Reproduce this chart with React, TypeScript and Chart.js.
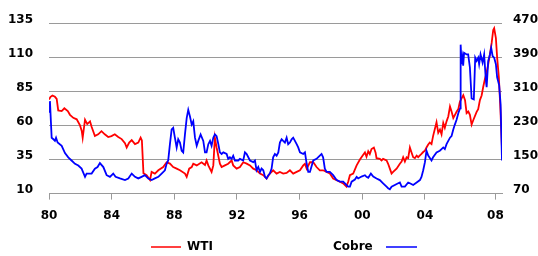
import React, { useEffect, useRef } from 'react';
import { Chart, registerables } from 'chart.js';

Chart.register(...registerables);

// ---- Data ----
const seriesNames = ['WTI', 'Cobre'];

const wtiYears = [
  1980.00, 1980.10, 1980.22, 1980.38, 1980.49, 1980.59, 1980.81, 1980.98,
  1981.20, 1981.34, 1981.55, 1981.77, 1981.98,
  1982.09, 1982.15, 1982.30, 1982.44, 1982.62, 1982.72, 1982.93,
  1983.14, 1983.35, 1983.56, 1983.78, 1983.99,
  1984.20, 1984.42, 1984.64, 1984.85, 1984.96,
  1985.12, 1985.28, 1985.49, 1985.70, 1985.85, 1985.93,
  1986.03, 1986.23, 1986.45, 1986.55, 1986.76, 1986.98,
  1987.29, 1987.51, 1987.72, 1987.93,
  1988.15, 1988.36, 1988.68, 1988.79, 1988.95,
  1989.11, 1989.21, 1989.43, 1989.74, 1989.96,
  1990.06, 1990.17, 1990.38, 1990.49, 1990.59, 1990.70, 1990.91,
  1991.02, 1991.23, 1991.44, 1991.66, 1991.76, 1991.98,
  1992.19, 1992.40, 1992.62, 1992.83,
  1993.04, 1993.25, 1993.47, 1993.68, 1993.89,
  1994.10, 1994.31, 1994.53, 1994.74, 1994.95,
  1995.17, 1995.38, 1995.59, 1995.81,
  1996.02, 1996.23, 1996.34, 1996.45, 1996.66, 1996.87,
  1997.08, 1997.29, 1997.50, 1997.72, 1997.93,
  1998.14, 1998.36, 1998.57, 1998.78, 1998.99,
  1999.10, 1999.21, 1999.42, 1999.64, 1999.85,
  2000.06, 2000.17, 2000.27, 2000.38, 2000.48, 2000.59, 2000.74, 2000.85, 2000.91,
  2001.12, 2001.23, 2001.33, 2001.55, 2001.65, 2001.76, 2001.87, 2001.97,
  2002.19, 2002.40, 2002.51, 2002.61, 2002.72, 2002.83, 2002.93,
  2003.04, 2003.15, 2003.25, 2003.36, 2003.47, 2003.57, 2003.68, 2003.78, 2003.89,
  2004.00, 2004.10, 2004.21, 2004.31, 2004.42, 2004.52, 2004.74, 2004.85, 2004.96,
  2005.06, 2005.17, 2005.27, 2005.38, 2005.49, 2005.60, 2005.70, 2005.81,
  2006.02, 2006.13, 2006.23, 2006.34, 2006.45, 2006.56, 2006.66, 2006.77, 2006.87, 2006.98,
  2007.09, 2007.30, 2007.40, 2007.51, 2007.62, 2007.72, 2007.83, 2007.94,
  2008.04, 2008.15, 2008.26, 2008.36, 2008.42, 2008.53, 2008.61, 2008.72, 2008.82, 2008.92,
];

const wtiValues = [
  79, 81, 82, 81, 79.5, 71, 70.5, 72.6,
  70.5, 67.8, 65.6, 64.5, 60,
  56, 51, 64.2, 61, 63, 59, 52.2,
  53.5, 55.8, 53.5, 51.5, 52.2,
  53.5, 51.5, 50, 47, 43.8,
  47.4, 49.2, 46.3, 47.4, 51, 49,
  25, 23.5, 19.9, 25.9, 24.7, 27.1,
  29.5, 33, 32, 29.5,
  28.3, 27.1, 24.7, 22.3, 28.3,
  29.5, 31.9, 30.7, 33, 31,
  34.3, 30.7, 25.9, 30.7, 51, 43.8, 31.9,
  29.5, 30.7, 31.9, 34.3, 30.7, 28.3,
  29.5, 33, 32, 30.7,
  28.3, 27.1, 24.7, 23.5, 21.1,
  24.7, 27.1, 24.7, 25.9, 24.7,
  25.2, 27.1, 24.7, 25.9,
  27.1, 30.7, 31.9, 28.3, 33, 33,
  29.5, 27.1, 27.1, 25.9, 24.7,
  21.1, 19.9, 18.7, 17.5, 15.1,
  18.7, 23.5, 24.7, 30.7, 35,
  38.5, 40.2, 37, 41, 39, 42.7, 43.8, 40, 36,
  35.5, 34.3, 35.5, 34.3, 31.9, 28.3, 24.7, 25.9,
  28.3, 31.9, 33.5, 36.7, 33.5, 36.7, 36,
  43.8, 40, 36.7, 36, 37.9, 36.7, 38, 39.1, 40.5,
  41.5, 43.8, 46, 47.4, 46.3, 52.2, 62.3, 54.6, 57,
  53.5, 61.8, 58.3, 63, 66.6, 73.8, 70.2, 65.4,
  70, 72, 77.4, 79.8, 82.2, 78.6, 69, 70.2, 67.8, 60.6,
  64, 70, 72, 78.6, 82, 88.2, 94.1, 99,
  104.9, 112.1, 120.5, 130, 131.3, 124, 109.7, 95.3, 71.4, 42.7,
];

const cobreYears = [
  1980.00, 1980.06, 1980.17, 1980.30, 1980.38, 1980.45, 1980.55, 1980.81,
  1981.02, 1981.23, 1981.44, 1981.66, 1981.87,
  1982.08, 1982.30, 1982.40, 1982.72, 1982.93,
  1983.10, 1983.25, 1983.47, 1983.68, 1983.89,
  1984.10, 1984.25, 1984.53, 1984.85,
  1985.06, 1985.28, 1985.49, 1985.70, 1985.91,
  1986.12, 1986.34, 1986.55, 1986.76, 1986.98,
  1987.19, 1987.40, 1987.51, 1987.61, 1987.72, 1987.83, 1987.93,
  1988.04, 1988.15, 1988.25, 1988.36, 1988.47, 1988.57, 1988.68, 1988.79, 1988.89,
  1989.00, 1989.11, 1989.21, 1989.32, 1989.43, 1989.53, 1989.68, 1989.85, 1989.96,
  1990.06, 1990.17, 1990.28, 1990.38, 1990.49, 1990.59, 1990.70, 1990.81, 1990.91,
  1991.02, 1991.13, 1991.34, 1991.44, 1991.55, 1991.66, 1991.76, 1991.87,
  1992.08, 1992.19, 1992.40, 1992.51, 1992.62, 1992.83,
  1993.04, 1993.15, 1993.25, 1993.36, 1993.47, 1993.57, 1993.68, 1993.79, 1993.89,
  1994.00, 1994.10, 1994.21, 1994.31, 1994.42, 1994.53, 1994.64, 1994.74, 1994.85, 1994.95,
  1995.06, 1995.17, 1995.27, 1995.38, 1995.49, 1995.59, 1995.70, 1995.81, 1995.91,
  1996.02, 1996.23, 1996.34, 1996.45, 1996.55, 1996.66, 1996.87,
  1997.08, 1997.29, 1997.40, 1997.50, 1997.61, 1997.72, 1997.93,
  1998.14, 1998.36, 1998.57, 1998.78, 1998.99,
  1999.10, 1999.21, 1999.32, 1999.53, 1999.64, 1999.74, 1999.95,
  2000.17, 2000.27, 2000.38, 2000.55, 2000.70, 2000.91,
  2001.12, 2001.33, 2001.55, 2001.65, 2001.76, 2001.87,
  2002.08, 2002.29, 2002.40, 2002.51, 2002.72, 2002.93,
  2003.04, 2003.25, 2003.47, 2003.68, 2003.78, 2003.89,
  2004.00, 2004.10, 2004.21, 2004.42, 2004.52, 2004.74, 2004.95,
  2005.06, 2005.17, 2005.27, 2005.38, 2005.60, 2005.70, 2005.81, 2005.91,
  2006.02, 2006.13, 2006.24, 2006.28, 2006.34, 2006.40, 2006.44, 2006.50, 2006.66, 2006.76, 2006.87, 2006.98,
  2007.12, 2007.21, 2007.30, 2007.40, 2007.46, 2007.55, 2007.68, 2007.78, 2007.89, 2007.94,
  2008.04, 2008.15, 2008.23, 2008.32, 2008.42, 2008.53, 2008.61, 2008.74, 2008.83, 2008.92,
];

const cobreValues = [
  262, 287, 201, 197, 194, 201, 190, 182,
  165, 155, 147.7, 140, 136,
  128.6, 109.3, 117, 117, 128.6,
  132.3, 141.5, 132.3, 113.2, 109.3,
  117, 109.3, 105.6, 101.7,
  105.6, 117, 109.3, 105.6, 109.3,
  113.2, 105.6, 101.7, 105.6, 109.3,
  117, 124.7, 140, 147.7, 186, 220.6, 224.3,
  201, 178.3, 197.6, 190, 170.7, 166.8, 209, 247.3, 266.6,
  251, 232, 239.7, 201.3, 182.2, 193.7, 209, 193.7, 166.8,
  166.8, 186, 193.7, 182.2, 201.3, 209, 205, 186, 166.8,
  163, 166.8, 163, 151.6, 155.3, 151.6, 159, 147.7,
  147.7, 151.6, 147.7, 166.8, 163, 147.7,
  143.8, 147.7, 124.7, 132.3, 120.8, 128.6, 124.7, 109.3, 105.6,
  113.2, 117, 128.6, 155.3, 163, 159, 166.8, 189.8, 197.6, 193.7,
  189.8, 201.3, 186, 189.8, 197.6, 201.3, 193.7, 186, 178.3,
  166.8, 163, 166.8, 140, 120.8, 120.8, 147.7,
  151.6, 159, 163, 155.3, 128.6, 120.8, 120.8,
  113.2, 101.7, 98, 98, 90.2,
  86.3, 86.3, 98, 103, 109.3, 105.6, 110,
  113.2, 109.3, 107, 117, 110, 105.6,
  101.7, 94.2, 86.3, 82.6, 80.3, 86.3,
  90.2, 94.2, 96, 86.3, 86.3, 96,
  94.2, 90.2, 96, 101.7, 109.3, 124.7,
  143.8, 170.7, 159.2, 147.7, 155.3, 166.8, 170.7,
  174.5, 178.3, 174.5, 186, 201.3, 205, 220.6, 232,
  243.5, 258.7, 270, 419.7, 373.7, 389, 370, 400.6, 396.7, 396.7, 366, 293.2,
  291, 389, 381.5, 389, 374, 396.7, 377.6, 396.7, 335.5, 320,
  381.5, 396.7, 412, 393, 389, 373.7, 343, 324, 280, 147.7,
];

const xTickYears = [1980, 1984, 1988, 1992, 1996, 2000, 2004, 2008.5];
const xTickLabels = ['80', '84', '88', '92', '96', '00', '04', '08'];

const leftAxis = { min: 10, max: 135, step: 25 };
const rightAxis = { min: 70, max: 470, step: 80 };

// ---- Styles ----
const RED = '#ff0000';
const BLUE = '#0000ff';
const GRID = '#9a9a9a';
const FONT_FAMILY = '"DejaVu Sans", Verdana, sans-serif';
const tickFont = { family: FONT_FAMILY, size: 12, weight: 'bold' as const };

const legendPlugin = {
  id: 'customLegend',
  afterDraw(chart: any) {
    const ctx = chart.ctx as CanvasRenderingContext2D;
    const y = 247;
    ctx.save();
    ctx.font = `bold 12px ${FONT_FAMILY}`;
    ctx.textBaseline = 'middle';
    ctx.textAlign = 'left';
    ctx.fillStyle = '#000';
    ctx.lineWidth = 1.5;
    // WTI: line then text
    ctx.strokeStyle = RED;
    ctx.beginPath();
    ctx.moveTo(151, y);
    ctx.lineTo(181, y);
    ctx.stroke();
    ctx.fillText(seriesNames[0], 187, y);
    // Cobre: text then line
    ctx.fillText(seriesNames[1], 333, y);
    ctx.strokeStyle = BLUE;
    ctx.beginPath();
    ctx.moveTo(386, y);
    ctx.lineTo(417, y);
    ctx.stroke();
    ctx.restore();
  },
};

export default function App() {
  const canvasRef = useRef<HTMLCanvasElement | null>(null);

  useEffect(() => {
    if (!canvasRef.current) return;
    Chart.defaults.font.family = FONT_FAMILY;

    const chart = new Chart(canvasRef.current, {
      type: 'line',
      data: {
        datasets: [
          {
            label: seriesNames[0],
            data: wtiYears.map((x, i) => ({ x, y: wtiValues[i] })),
            borderColor: RED,
            backgroundColor: RED,
            borderWidth: 1.8,
            pointRadius: 0,
            tension: 0,
            yAxisID: 'y',
            order: 1,
          },
          {
            label: seriesNames[1],
            data: cobreYears.map((x, i) => ({ x, y: cobreValues[i] })),
            borderColor: BLUE,
            backgroundColor: BLUE,
            borderWidth: 1.8,
            pointRadius: 0,
            tension: 0,
            yAxisID: 'y1',
            order: 0,
          },
        ],
      },
      options: {
        animation: false,
        responsive: false,
        devicePixelRatio: 1,
        layout: { padding: { top: 19.5, left: 0, right: 0, bottom: 0 } },
        plugins: {
          legend: { display: false },
          tooltip: { enabled: false },
        },
        scales: {
          x: {
            type: 'linear',
            min: wtiYears[0],
            max: wtiYears[wtiYears.length - 1],
            afterBuildTicks: (scale: any) => {
              scale.ticks = xTickYears.map((v) => ({ value: v }));
            },
            afterFit: (scale: any) => {
              scale.height = 62.4;
            },
            ticks: {
              callback: (_v: any, i: number) => xTickLabels[i],
              autoSkip: false,
              maxRotation: 0,
              padding: 9,
              color: '#000',
              font: tickFont,
            },
            grid: {
              drawOnChartArea: false,
              drawTicks: true,
              tickLength: 6,
              color: GRID,
              lineWidth: 1,
            },
            border: { display: true, color: GRID, width: 1 },
          },
          y: {
            type: 'linear',
            position: 'left',
            min: leftAxis.min,
            max: leftAxis.max,
            afterFit: (scale: any) => {
              scale.width = 49;
            },
            ticks: {
              stepSize: leftAxis.step,
              padding: 16,
              labelOffset: -3.5,
              color: '#000',
              font: tickFont,
            },
            grid: { color: GRID, lineWidth: 1, drawTicks: false },
            border: { display: false },
          },
          y1: {
            type: 'linear',
            position: 'right',
            min: rightAxis.min,
            max: rightAxis.max,
            afterFit: (scale: any) => {
              scale.width = 36;
            },
            ticks: {
              stepSize: rightAxis.step,
              padding: 11,
              labelOffset: -3.5,
              color: '#000',
              font: tickFont,
            },
            grid: { display: false, drawTicks: false },
            border: { display: false },
          },
        },
      },
      plugins: [legendPlugin],
    });

    return () => chart.destroy();
  }, []);

  return (
    <div style={{ position: 'absolute', left: 0, top: 0, width: 538, height: 256, background: '#fff' }}>
      <canvas ref={canvasRef} width={538} height={256} style={{ display: 'block' }} />
    </div>
  );
}
